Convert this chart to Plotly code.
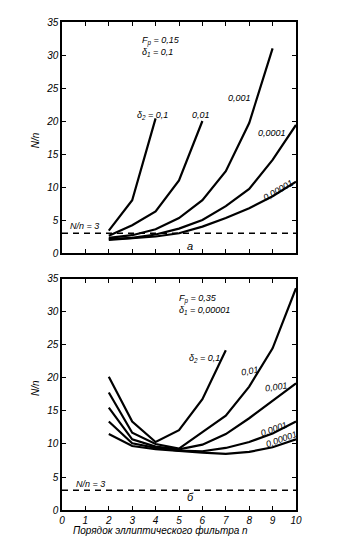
import plotly.graph_objects as go

# ---------------- data ----------------
# Panel "а": Fp = 0,15, δ1 = 0,1
top_n_01 = [2, 3, 4]
top_v_01 = [3.4, 8.0, 20.4]
top_n_001 = [2, 3, 4, 5, 6]
top_v_001 = [2.6, 4.2, 6.3, 11.0, 20.0]
top_n_0001 = [2, 3, 4, 5, 6, 7, 8, 9]
top_v_0001 = [2.3, 2.7, 3.6, 5.3, 8.0, 12.4, 19.7, 31.0]
top_n_00001 = [2, 3, 4, 5, 6, 7, 8, 9, 10]
top_v_00001 = [2.1, 2.3, 2.8, 3.7, 5.0, 7.1, 9.7, 14.1, 19.4]
top_n_000001 = [2, 3, 4, 5, 6, 7, 8, 9, 10]
top_v_000001 = [2.0, 2.2, 2.5, 3.0, 4.0, 5.3, 6.8, 8.6, 10.8]

# Panel "б": Fp = 0,35, δ1 = 0,00001
bot_n_01 = [2, 3, 4, 5, 6, 7]
bot_v_01 = [20.2, 13.4, 10.3, 12.1, 16.8, 24.2]
bot_n_001 = [2, 3, 4, 5, 6, 7, 8, 9, 10]
bot_v_001 = [17.8, 11.7, 10.0, 9.3, 11.8, 14.3, 18.7, 24.5, 33.6]
bot_n_0001 = [2, 3, 4, 5, 6, 7, 8, 9, 10]
bot_v_0001 = [15.5, 10.7, 9.6, 9.2, 9.9, 11.5, 13.9, 16.5, 19.2]
bot_n_00001 = [2, 3, 4, 5, 6, 7, 8, 9, 10]
bot_v_00001 = [13.4, 10.1, 9.4, 9.0, 8.9, 9.4, 10.3, 11.6, 13.4]
bot_n_000001 = [2, 3, 4, 5, 6, 7, 8, 9, 10]
bot_v_000001 = [11.5, 9.7, 9.2, 8.9, 8.7, 8.5, 8.8, 9.5, 10.7]

ref_n = [0, 10]
ref_v = [3, 3]

x_ticks = [0, 1, 2, 3, 4, 5, 6, 7, 8, 9, 10]
y_ticks = [0, 5, 10, 15, 20, 25, 30, 35]

FONT = "Liberation Sans"
fig = go.Figure()

line = dict(color="black", width=2.2)
for xs, ys in [(top_n_01, top_v_01), (top_n_001, top_v_001), (top_n_0001, top_v_0001),
               (top_n_00001, top_v_00001), (top_n_000001, top_v_000001)]:
    fig.add_trace(go.Scatter(x=xs, y=ys, mode="lines", line=line, xaxis="x", yaxis="y",
                             showlegend=False, hoverinfo="skip"))
for xs, ys in [(bot_n_01, bot_v_01), (bot_n_001, bot_v_001), (bot_n_0001, bot_v_0001),
               (bot_n_00001, bot_v_00001), (bot_n_000001, bot_v_000001)]:
    fig.add_trace(go.Scatter(x=xs, y=ys, mode="lines", line=line, xaxis="x2", yaxis="y2",
                             showlegend=False, hoverinfo="skip"))

dash = dict(color="black", width=1.5, dash="6px,5px")
fig.add_trace(go.Scatter(x=ref_n, y=ref_v, mode="lines", line=dash, xaxis="x", yaxis="y",
                         showlegend=False, hoverinfo="skip"))
fig.add_trace(go.Scatter(x=ref_n, y=ref_v, mode="lines", line=dash, xaxis="x2", yaxis="y2",
                         showlegend=False, hoverinfo="skip"))

axis_common = dict(range=[0, 10], showgrid=False, zeroline=False, showline=True,
                   linecolor="black", linewidth=1.5, mirror="ticks", ticks="inside",
                   ticklen=4, tickcolor="black", tickwidth=1.2, tickvals=x_ticks)
yaxis_common = dict(range=[0, 35], showgrid=False, zeroline=False, showline=True,
                    linecolor="black", linewidth=1.5, mirror="ticks", ticks="inside",
                    ticklen=4, tickcolor="black", tickwidth=1.2, tickvals=y_ticks)

tickfont = dict(family=FONT, size=10, color="black", style="italic")

fig.update_layout(
    width=341, height=542,
    margin=dict(l=62, r=45, t=22, b=32),
    paper_bgcolor="white", plot_bgcolor="white",
    font=dict(family=FONT, size=10, color="black", style="italic"),
    xaxis=dict(**axis_common, domain=[0, 1], anchor="y", showticklabels=False),
    yaxis=dict(**yaxis_common, domain=[0.5266, 1], anchor="x", tickfont=tickfont),
    xaxis2=dict(**axis_common, domain=[0, 1], anchor="y2", showticklabels=True, tickfont=tickfont),
    yaxis2=dict(**yaxis_common, domain=[0, 0.4734], anchor="x2", tickfont=tickfont),
)

def ann(text, x, y, xref, yref, angle=0, xanchor="center", size=10):
    fig.add_annotation(text=text, x=x, y=y, xref=xref, yref=yref, showarrow=False,
                       textangle=angle, xanchor=xanchor, yanchor="middle",
                       font=dict(family=FONT, size=size, color="black", style="italic"))

# top panel labels
ann("F<sub>p</sub> = 0,15", 3.33, 32.1, "x", "y", xanchor="left", size=9)
ann("δ<sub>1</sub> = 0,1", 3.33, 30.4, "x", "y", xanchor="left", size=9)
ann("δ<sub>2</sub> = 0,1", 3.85, 20.9, "x", "y", size=9)
ann("0,01", 5.94, 20.9, "x", "y", size=9)
ann("0,001", 7.6, 23.5, "x", "y", size=9)
ann("0,0001", 8.97, 18.2, "x", "y", size=9)
ann("0,00001", 9.27, 9.5, "x", "y", angle=-30, size=9)
ann("N/n = 3", 0.98, 4.1, "x", "y", size=9)
ann("а", 5.47, 1.1, "x", "y", size=11)

# bottom panel labels
ann("F<sub>p</sub> = 0,35", 4.91, 32.0, "x2", "y2", xanchor="left", size=9)
ann("δ<sub>1</sub> = 0,00001", 4.91, 30.3, "x2", "y2", xanchor="left", size=9)
ann("δ<sub>2</sub> = 0,1", 6.07, 22.9, "x2", "y2", size=9)
ann("0,01", 8.03, 21.1, "x2", "y2", angle=-10, size=9)
ann("0,001", 9.15, 18.6, "x2", "y2", angle=-8, size=9)
ann("0,0001", 9.06, 12.3, "x2", "y2", angle=-20, size=9)
ann("0,00001", 9.4, 10.8, "x2", "y2", angle=-20, size=9)
ann("N/n = 3", 1.2, 3.9, "x2", "y2", size=9)
ann("б", 5.47, 2.0, "x2", "y2", size=11)

# axis titles
ann("N/n", -0.115, 0.758, "paper", "paper", angle=-90, size=10)
ann("N/n", -0.115, 0.25, "paper", "paper", angle=-90, size=10)
ann("Порядок эллиптического фильтра n", 0.419, -0.041, "paper", "paper", size=10)

fig.write_html("out.html")
